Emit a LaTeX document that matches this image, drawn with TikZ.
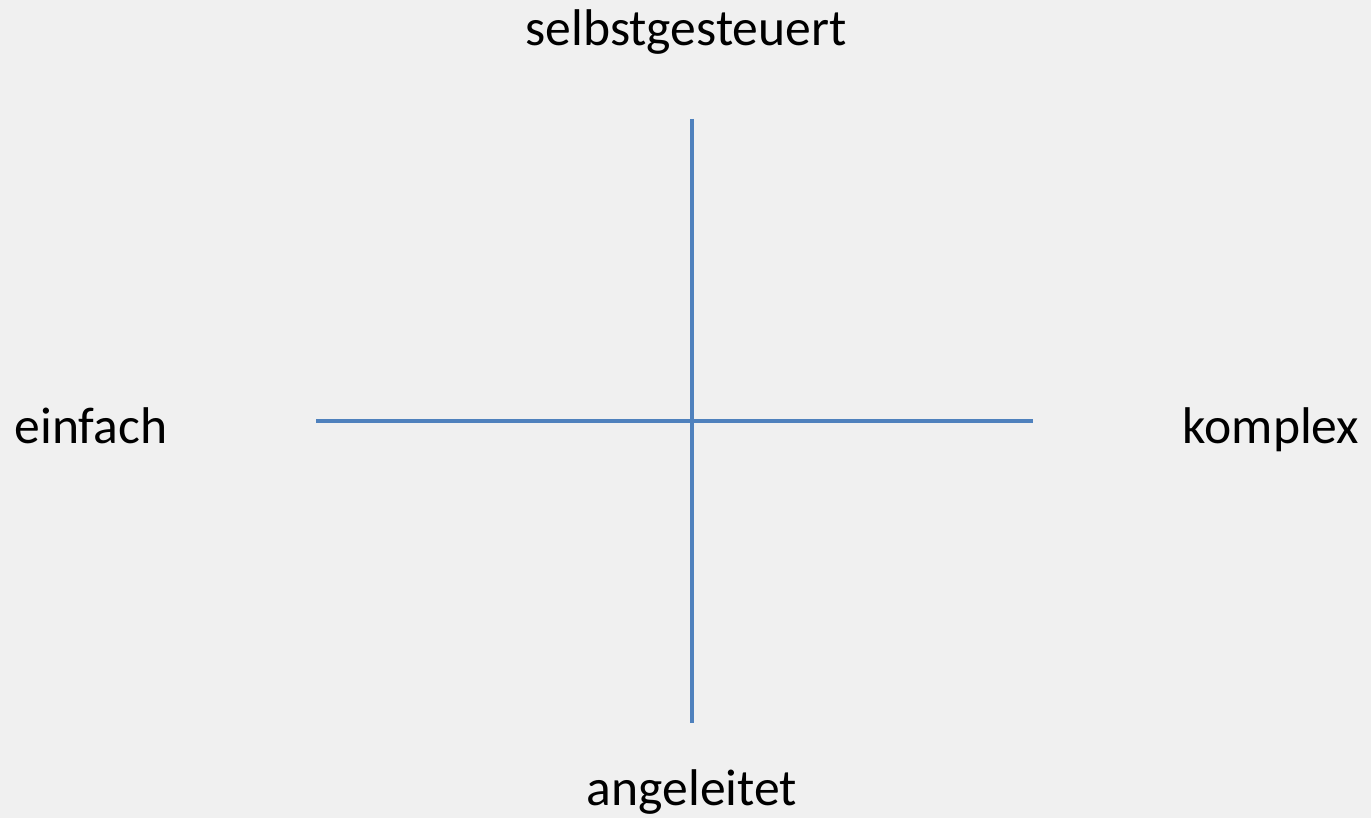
\documentclass[tikz,border=0pt]{standalone}
\usepackage{fontspec}
\setmainfont{Carlito}
\definecolor{bg}{HTML}{F0F0F0}
\definecolor{axis}{HTML}{4F81BD}
\begin{document}
\begin{tikzpicture}[x=0.5pt,y=-0.5pt,
  axisline/.style={draw=axis,line width=2pt},
  lab/.style={font=\fontsize{25.8}{31}\selectfont,inner sep=0pt,anchor=base}]
\fill[bg] (0,0) rectangle (1371,818);
\useasboundingbox (0,0) rectangle (1371,818);
\coordinate (top) at (692,119);
\coordinate (bot) at (692,723);
\coordinate (left) at (316,421);
\coordinate (right) at (1033,421);
\draw[axisline] (top) -- (bot);
\draw[axisline] (left) -- (right);
\node[lab] (sel) at (686,46) {selbstgesteuert};
\node[lab] (ang) at (692,805) {angeleitet};
\node[lab] (ein) at (91,443) {einfach};
\node[lab] (kom) at (1271,443) {komplex};
\end{tikzpicture}
\end{document}
